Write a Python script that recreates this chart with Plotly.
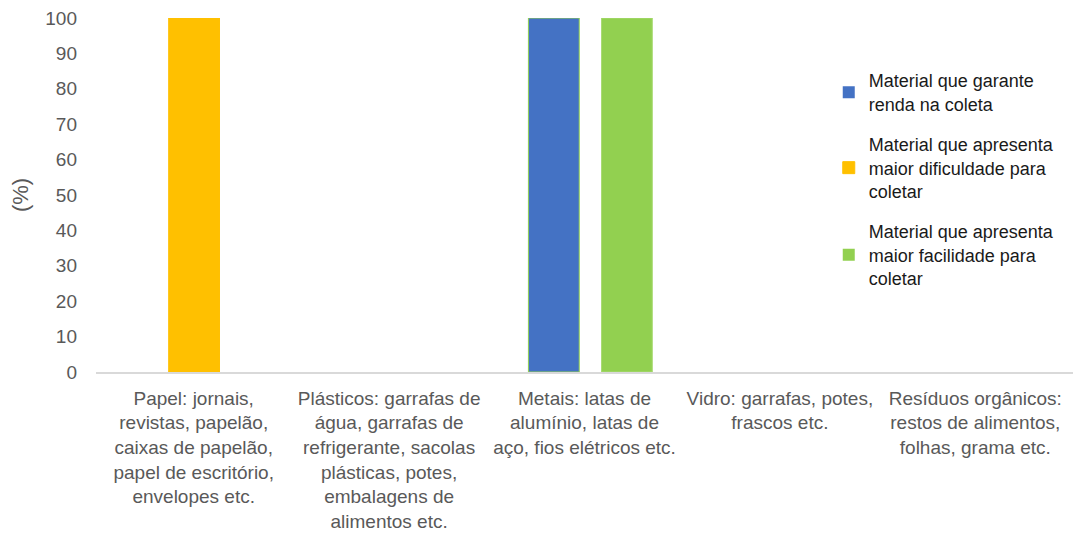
import plotly.graph_objects as go

categories = [
    "Papel: jornais,<br>revistas, papelão,<br>caixas de papelão,<br>papel de escritório,<br>envelopes etc.",
    "Plásticos: garrafas de<br>água, garrafas de<br>refrigerante, sacolas<br>plásticas, potes,<br>embalagens de<br>alimentos etc.",
    "Metais: latas de<br>alumínio, latas de<br>aço, fios elétricos etc.",
    "Vidro: garrafas, potes,<br>frascos etc.",
    "Resíduos orgânicos:<br>restos de alimentos,<br>folhas, grama etc.",
]
renda = [0, 0, 100, 0, 0]
dificuldade = [100, 0, 0, 0, 0]
facilidade = [0, 0, 100, 0, 0]

names = [
    "Material que garante<br>renda na coleta",
    "Material que apresenta<br>maior dificuldade para<br>coletar",
    "Material que apresenta<br>maior facilidade para<br>coletar",
]
colors = ["#4472C4", "#FFC000", "#92D050"]
lines = ["#92D050", "#FFC000", "#A9DB74"]
offsets = [-0.287, -0.128, 0.087]
width = 0.26

fig = go.Figure()
for i, (vals, nm, c, lc, off) in enumerate(zip([renda, dificuldade, facilidade], names, colors, lines, offsets)):
    fig.add_trace(go.Bar(
        x=categories, y=vals, name=nm, legendgroup=f"g{i}",
        marker=dict(color=c, line=dict(color=lc, width=[1 if v else 0 for v in vals])),
        offset=off, width=width,
    ))

fig.update_layout(
    width=1078, height=541,
    margin=dict(l=96, r=5, t=18, b=169),
    paper_bgcolor="white", plot_bgcolor="white",
    font=dict(family="Liberation Sans, Arial, sans-serif", color="#595959", size=19),
    showlegend=True,
    legend=dict(
        x=0.750, y=0.875, xanchor="left", yanchor="top",
        font=dict(size=18, color="#1a1a1a"),
        tracegroupgap=14, bgcolor="rgba(0,0,0,0)",
        traceorder="grouped",
    ),
)
fig.update_xaxes(
    showline=True, linecolor="#D9D9D9", linewidth=1.5,
    showgrid=False, ticks="", tickfont=dict(size=19, color="#595959"),
    tickangle=0, ticklabelstandoff=8,
)
fig.update_yaxes(
    range=[0, 100], dtick=10, showgrid=False, showline=False, zeroline=False,
    ticks="", tickfont=dict(size=19, color="#595959"), ticklabelstandoff=18,
    title=dict(text="(%)", font=dict(size=22, color="#595959"), standoff=10),
)

fig.write_html("out.html")
